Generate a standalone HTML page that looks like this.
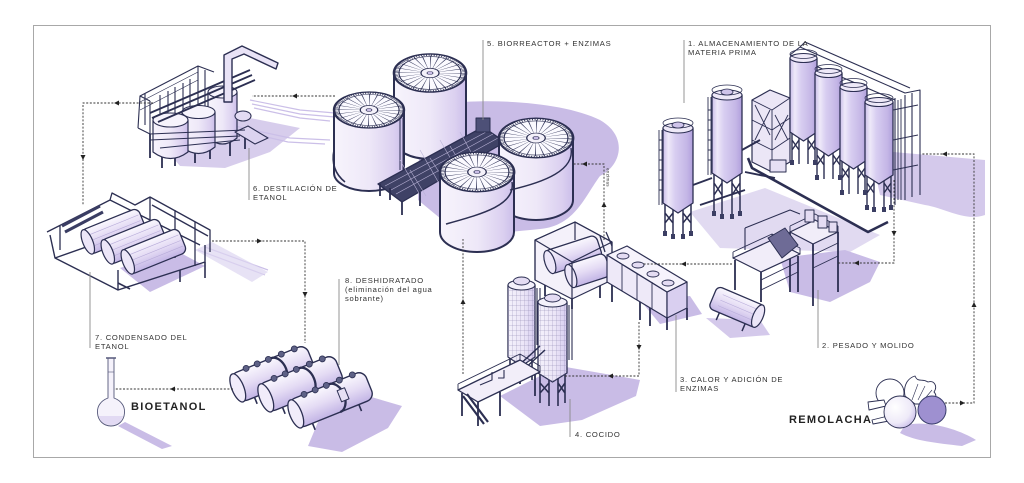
<!DOCTYPE html>
<html><head><meta charset="utf-8"><style>
html,body{margin:0;padding:0;background:#fff;}
svg{display:block}
text{font-family:"Liberation Sans",sans-serif;fill:#333;font-size:7.6px;letter-spacing:0.75px}
.b{font-weight:bold;font-size:11px;letter-spacing:1.3px;fill:#222}
.d{fill:none;stroke:#333;stroke-width:0.9;stroke-dasharray:2 1.6}
.l{stroke:#8a8a8a;stroke-width:0.9}
.a{fill:#222}
.n{stroke:#2c2f52;fill:none}
</style></head><body>
<svg width="1024" height="483" viewBox="0 0 1024 483" xmlns="http://www.w3.org/2000/svg">
<defs>
<linearGradient id="tk" x1="0" x2="1" y1="0" y2="0"><stop offset="0" stop-color="#f7f4fc"/><stop offset=".5" stop-color="#eee8f8"/><stop offset=".85" stop-color="#dbd0f0"/><stop offset="1" stop-color="#cbbeea"/></linearGradient>
<linearGradient id="sl" x1="0" x2="1" y1="0" y2="0"><stop offset="0" stop-color="#cabee9"/><stop offset=".18" stop-color="#eee9f9"/><stop offset=".4" stop-color="#d8cef1"/><stop offset=".8" stop-color="#c4b6e6"/><stop offset="1" stop-color="#b09fdc"/></linearGradient>
<linearGradient id="sl2" x1="0" x2="1" y1="0" y2="0"><stop offset="0" stop-color="#f4f1fb"/><stop offset=".6" stop-color="#ebe5f7"/><stop offset="1" stop-color="#d6ccf0"/></linearGradient>
<linearGradient id="cy" x1="0" x2="0" y1="0" y2="1"><stop offset="0" stop-color="#faf8fe"/><stop offset=".5" stop-color="#e4dbf4"/><stop offset="1" stop-color="#c2b4e5"/></linearGradient>
<radialGradient id="bt" cx=".35" cy=".35" r=".7"><stop offset="0" stop-color="#ffffff"/><stop offset=".7" stop-color="#eeeaf8"/><stop offset="1" stop-color="#cfc5ec"/></radialGradient>
<pattern id="grid" width="4" height="5" patternUnits="userSpaceOnUse"><path d="M0,0 H4 M0,0 V5" stroke="#8d86b0" stroke-width=".5" fill="none"/></pattern>
<g id="top">
 <circle r="36" fill="#fbfaff" stroke="#2c2f52" stroke-width="2.6"/>
 <circle r="17" fill="none" stroke="#3a3d60" stroke-width="32" stroke-dasharray="0.55 3.9"/>
 <circle r="31" fill="none" stroke="#2c2f52" stroke-width="1.2"/>
 <circle r="34" fill="none" stroke="#2c2f52" stroke-width="3.5" stroke-dasharray="0.9 1.7"/>
 <circle r="9" fill="#f4f1fa" stroke="#2c2f52" stroke-width="1.3"/>
 <circle r="3" fill="#c9bde6" stroke="#2c2f52" stroke-width=".8"/>
</g>
</defs>

<rect x="33.5" y="25.5" width="957" height="432" fill="#fff" stroke="#a8a8a8" stroke-width="1"/>

<!-- ============ SHADOWS ============ -->
<g fill="#c9bce6">
 <path d="M420,108 C470,96 560,100 600,120 C628,136 622,165 600,176 C585,196 575,226 540,229 C500,233 470,236 452,228 L418,200 Z"/>
 <path d="M870,150 L985,160 L985,215 C965,222 945,208 925,205 L880,195 Z" opacity=".8"/>
 <path d="M690,212 L765,188 L880,235 L850,252 L720,248 Z" opacity=".55"/>
 <path d="M160,142 L250,118 L300,128 L270,152 L225,168 L180,166 Z" opacity=".75"/>
 <path d="M120,268 L175,250 L205,266 L150,292 Z"/>
 <path d="M318,422 L368,396 L402,406 L388,428 L342,452 L308,446 Z"/>
 <path d="M500,396 L560,366 L640,380 L636,396 L582,420 L540,426 Z"/>
 <path d="M640,300 L690,296 L702,314 L660,324 Z"/>
 <path d="M780,258 L845,250 L880,262 L870,282 L830,302 L790,292 Z"/>
 <path d="M706,318 L760,320 L770,335 L730,338 Z" opacity=".8"/>
 <path d="M905,425 C930,420 960,430 976,440 L962,446 C936,443 915,441 900,433 Z"/>
 <path d="M118,426 L125,422 L172,446 L162,449 Z"/>
</g>
<g stroke="#cbbfe8" stroke-width="1.2" fill="none">
 <path d="M250,100 L300,110 L335,113 M252,104 L300,114 L335,117 M254,108 L300,118 L330,121 M230,125 L290,138 L330,140 M232,129 L288,142 L325,144"/>
 <path d="M198,250 L265,275 M205,247 L268,270"/>
</g>
<path d="M195,250 L212,242 L268,272 L252,282 Z" fill="#ddd5f1" opacity=".7"/>

<!-- ============ DISTILLATION (6) ============ -->
<g stroke="#2c2f52" stroke-linejoin="round">
 <path d="M150,134 V158 M162,150 V168 M175,146 V166 M195,145 V163 M210,140 V159 M230,136 V156 M245,130 V149" stroke-width="1.8" fill="none"/>
 <path d="M138,128 L140,96 L198,66 L214,72 M140,96 L150,101 M138,128 L150,134 M150,101 L150,134 M160,95 L160,130 M175,87 L175,124 M190,79 L190,116 M205,70 L205,108 M145,93 V125 M168,91 V127 M183,83 V120 M198,66 V112" stroke-width="1.1" fill="none"/>
 <path d="M140,102 L198,72 M140,110 L198,80" stroke-width=".7" fill="none"/>
 <path d="M208,92 V138 Q222.5,150 237,138 V92 Z" fill="url(#tk)" stroke-width="1.2"/>
 <ellipse cx="222.5" cy="92" rx="14.5" ry="6" fill="#f6f3fc" stroke-width="1.1"/>
 <path d="M182,112 V147 Q198.5,160 215,147 V112 Z" fill="url(#tk)" stroke-width="1.2"/>
 <ellipse cx="198.5" cy="112" rx="16.5" ry="6.5" fill="#f6f3fc" stroke-width="1.1"/>
 <path d="M153,120 V152 Q170.5,165 188,152 V120 Z" fill="url(#tk)" stroke-width="1.2"/>
 <ellipse cx="170.5" cy="120" rx="17.5" ry="7" fill="#f6f3fc" stroke-width="1.1"/>
 <path d="M150,113 L250,70 M152,118 L252,75 M158,122 L255,80" stroke-width="1.8" fill="none"/>
 <path d="M224,102 V55 L242,46 L278,63 L276,69 L244,54 L232,59 V102 Z" fill="#e9e3f6" stroke-width="1.4"/>
 <path d="M235,132 L248,126 L268,138 L255,144 Z" fill="#dcd3f0" stroke-width="1.1"/>
 <ellipse cx="243" cy="116" rx="8" ry="5" fill="#e3dbf3" stroke-width="1.1"/>
 <path d="M150,134 L245,130 M150,140 L240,136 M160,148 L240,140" stroke-width=".9" fill="none"/>
</g>

<!-- ============ CONDENSER (7) ============ -->
<g stroke="#2c2f52" fill="none" stroke-linejoin="round">
 <path d="M50,235 L55,258 L118,290 L205,262 L205,245 M55,258 L140,228 M118,290 L118,270" stroke-width="1.4"/>
 <path d="M47,232 L110,200 L140,215 M60,226 L60,250 M110,200 L112,193 L135,205 L150,197 L210,230 L210,252 M150,197 L150,240 M175,210 L175,258 M195,222 L195,266 M140,215 L200,245 M152,205 L208,236" stroke-width="1.3"/>
 <path d="M62,226 L100,206 M65,232 L103,212" stroke-width="3" stroke="#3a3d63"/>
 <g transform="translate(85,243) rotate(-22)"><rect x="0" y="-13" width="62" height="26" rx="6" fill="url(#cy)" stroke-width="1.3"/><path d="M8,-6 H60 M8,0 H60 M8,6 H60" stroke="#b7abd9" stroke-width=".6"/><ellipse cx="3" cy="0" rx="5" ry="13" fill="#ece6f8" stroke-width="1.2"/></g>
 <g transform="translate(105,253) rotate(-22)"><rect x="0" y="-13" width="62" height="26" rx="6" fill="url(#cy)" stroke-width="1.3"/><path d="M8,-6 H60 M8,0 H60 M8,6 H60" stroke="#b7abd9" stroke-width=".6"/><ellipse cx="3" cy="0" rx="5" ry="13" fill="#ece6f8" stroke-width="1.2"/></g>
 <g transform="translate(125,263) rotate(-22)"><rect x="0" y="-13" width="62" height="26" rx="6" fill="url(#cy)" stroke-width="1.3"/><path d="M8,-6 H60 M8,0 H60 M8,6 H60" stroke="#b7abd9" stroke-width=".6"/><ellipse cx="3" cy="0" rx="5" ry="13" fill="#ece6f8" stroke-width="1.2"/></g>
 <path d="M118,283 L130,289 M205,262 V278 M180,270 V282" stroke-width="1.6"/>
</g>

<!-- ============ BIOREACTOR (5) ============ -->
<g stroke="#2c2f52" stroke-linejoin="round">
 <path d="M394,73 V140 A36,19 0 0 0 466,140 V73 Z" fill="url(#tk)" stroke-width="2"/>
 <use href="#top" transform="translate(430,73) scale(1,0.53)"/>
 <path d="M334,110 V173 A35,18 0 0 0 404,173 V110 Z" fill="url(#tk)" stroke-width="2"/>
 <use href="#top" transform="translate(369,110) scale(0.97,0.5)"/>
 <path d="M334,150 Q330,170 345,182" fill="none" stroke-width="1.6"/>
 <path d="M400,118 V170 M403,118 V170" fill="none" stroke-width="1"/>
 <polygon points="378,184 483,127 505,142 402,202" fill="#3f4266" stroke-width="1.3"/>
 <path d="M385,186 L488,131 M391,190 L493,134 M396,194 L498,138 M400,160 L420,195 M420,150 L440,185 M440,140 L460,175 M460,132 L478,165 M410,170 L426,196 M430,158 L448,186 M450,146 L466,172" stroke="#b9b2d6" stroke-width=".6" fill="none"/>
 <path d="M380,184 V196 M402,202 V215 M420,192 V206 M445,178 V192 M470,165 V178 M390,188 V200" stroke-width="1.8" fill="none"/>
 <path d="M476,118 h14 v14 h-14 Z" fill="#4d5077" stroke-width="1"/>
 <path d="M499,138 V200 A37,20 0 0 0 573,200 V138 Z" fill="url(#tk)" stroke-width="2"/>
 <use href="#top" transform="translate(536,138) scale(1.03,0.55)"/>
 <path d="M440,172 V232 A37,20 0 0 0 514,232 V172 Z" fill="url(#tk)" stroke-width="2"/>
 <use href="#top" transform="translate(477,172) scale(1.03,0.55)"/>
 <path d="M512,182 C516,205 482,214 446,224" fill="none" stroke-width="1.5"/>
 <path d="M571,148 C575,170 545,182 510,190" fill="none" stroke-width="1.4"/>
</g>

<!-- ============ SILOS (1) ============ -->
<g stroke="#2c2f52" stroke-linejoin="round">
 <path d="M748,158 L752,168 L868,232 L888,222" fill="none" stroke="#2c2f52" stroke-width="2.6"/>
 <path d="M790,55 L800,47 L905,93 L920,90 L920,195 M895,98 V205 M905,95 V200 M912,93 V197 M790,55 L895,100 M800,47 L805,42 L910,88" fill="none" stroke-width="1.1"/>
 <path d="M752,100 L770,90 L790,98 V162 L772,172 L752,162 Z" fill="#ebe6f6" stroke-width="1.2"/>
 <path d="M752,100 L772,110 V172 M772,110 L790,98 M752,120 L772,130 L790,118 M752,140 L772,150 L790,138 M755,105 L770,135 M770,110 L755,140 M775,115 L788,140 M788,115 L775,140" fill="none" stroke-width=".9"/>
 <path d="M742,150 L760,140 M693,185 L712,178 M745,172 L775,178 M700,205 L745,190" fill="none" stroke-width="1.9"/>
 <rect x="770" y="160" width="16" height="12" fill="#e6e0f4" stroke-width="1"/>
 <!-- S3 -->
 <path d="M792,132 V162 M799,136 V164 M808,136 V164 M815,132 V162 M792,140 L799,150 M799,140 L792,150 M808,140 L815,150 M815,140 L808,150" fill="none" stroke-width="1.4"/>
 <path d="M790,58 V132 L803.5,141 L817,132 V58 Z" fill="url(#sl)" stroke-width="1.3"/>
 <ellipse cx="803.5" cy="58" rx="13.5" ry="4.5" fill="#eee9f8" stroke-width="1.1"/>
 <ellipse cx="803.5" cy="54" rx="13.5" ry="4.5" fill="none" stroke-width=".8"/>
 <!-- S4 -->
 <path d="M817,147 V177 M824,151 V179 M833,151 V179 M840,147 V177 M817,155 L824,165 M824,155 L817,165 M833,155 L840,165 M840,155 L833,165" fill="none" stroke-width="1.4"/>
 <path d="M815,73 V147 L828.5,156 L842,147 V73 Z" fill="url(#sl)" stroke-width="1.3"/>
 <ellipse cx="828.5" cy="73" rx="13.5" ry="4.5" fill="#eee9f8" stroke-width="1.1"/>
 <ellipse cx="828.5" cy="69" rx="13.5" ry="4.5" fill="none" stroke-width=".8"/>
 <!-- S5 -->
 <path d="M842,160 V192 M849,164 V194 M858,164 V194 M865,160 V192 M842,168 L849,178 M849,168 L842,178 M858,168 L865,178 M865,168 L858,178" fill="none" stroke-width="1.4"/>
 <path d="M840,87 V160 L853.5,169 L867,160 V87 Z" fill="url(#sl)" stroke-width="1.3"/>
 <ellipse cx="853.5" cy="87" rx="13.5" ry="4.5" fill="#eee9f8" stroke-width="1.1"/>
 <ellipse cx="853.5" cy="83" rx="13.5" ry="4.5" fill="none" stroke-width=".8"/>
 <!-- S6 -->
 <path d="M867,175 V207 M874,179 V209 M884,179 V209 M891,175 V207 M867,183 L874,193 M874,183 L867,193 M884,183 L891,193 M891,183 L884,193" fill="none" stroke-width="1.4"/>
 <path d="M865,102 V175 L879,184 L893,175 V102 Z" fill="url(#sl)" stroke-width="1.3"/>
 <ellipse cx="879" cy="102" rx="14" ry="4.5" fill="#eee9f8" stroke-width="1.1"/>
 <ellipse cx="879" cy="98" rx="14" ry="4.5" fill="none" stroke-width=".8"/>
 <path d="M893,110 L918,105 M893,140 L918,135 M893,170 L918,165 M898,100 V200 M901,99 V200" fill="none" stroke-width=".9"/>
 <!-- S1 -->
 <path d="M665,203 V233 M673,208 V236 M683,208 V236 M691,203 V233 M665,213 L673,223 M673,213 L665,223 M683,213 L691,223 M691,213 L683,223" fill="none" stroke-width="1.5"/>
 <path d="M659,130 V205 M662,130 V205 M659,140 H662 M659,150 H662 M659,160 H662 M659,170 H662 M659,180 H662 M659,190 H662" fill="none" stroke-width=".9"/>
 <path d="M663,128 V203 L678,213 L693,203 V128 Z" fill="url(#sl)" stroke-width="1.3"/>
 <ellipse cx="678" cy="128" rx="15" ry="5" fill="#eee9f8" stroke-width="1.1"/>
 <ellipse cx="678" cy="123" rx="15" ry="5" fill="none" stroke-width=".8"/>
 <ellipse cx="678" cy="125" rx="6" ry="3" fill="#cfc4ea" stroke-width=".8"/>
 <!-- S2 -->
 <path d="M714,173 V213 M722,178 V216 M732,178 V216 M740,173 V213 M714,183 L722,195 M722,183 L714,195 M732,183 L740,195 M740,183 L732,195" fill="none" stroke-width="1.5"/>
 <path d="M708,97 V175 M711,97 V175 M708,110 H711 M708,120 H711 M708,130 H711 M708,140 H711 M708,150 H711 M708,160 H711" fill="none" stroke-width=".9"/>
 <path d="M712,95 V173 L727,183 L742,173 V95 Z" fill="url(#sl)" stroke-width="1.3"/>
 <ellipse cx="727" cy="95" rx="15" ry="5" fill="#eee9f8" stroke-width="1.1"/>
 <ellipse cx="727" cy="90" rx="15" ry="5" fill="none" stroke-width=".8"/>
 <ellipse cx="727" cy="92" rx="6" ry="3" fill="#cfc4ea" stroke-width=".8"/>
</g>
<g fill="#3b3e63">
 <rect x="663" y="231" width="4" height="5"/><rect x="671" y="234" width="4" height="5"/><rect x="681" y="234" width="4" height="5"/><rect x="689" y="231" width="4" height="5"/>
 <rect x="712" y="211" width="4" height="5"/><rect x="720" y="214" width="4" height="5"/><rect x="730" y="214" width="4" height="5"/><rect x="738" y="211" width="4" height="5"/>
 <rect x="865" y="205" width="4" height="5"/><rect x="872" y="207" width="4" height="5"/><rect x="882" y="207" width="4" height="5"/><rect x="889" y="205" width="4" height="5"/>
 <rect x="840" y="190" width="4" height="5"/><rect x="863" y="190" width="4" height="5"/>
 <rect x="815" y="175" width="4" height="5"/><rect x="838" y="175" width="4" height="5"/>
 <rect x="790" y="160" width="4" height="5"/><rect x="813" y="160" width="4" height="5"/>
</g>

<!-- ============ 2 PESADO Y MOLIDO ============ -->
<g stroke="#2c2f52" stroke-linejoin="round">
 <path d="M790,232 V292 M813,244 V306 M838,232 V292 M815,220 V235 M735,260 V290 M761,272 V302 M798,256 V292" fill="none" stroke-width="1.8"/>
 <path d="M733,258 L772,240 L800,254 L761,272 Z" fill="#f1edf9" stroke-width="1.2"/>
 <path d="M733,252 L772,234 L800,248 M733,252 V258 M772,234 V240 M800,248 V254" fill="none" stroke-width=".9"/>
 <path d="M768,238 L785,228 L798,245 L782,258 Z" fill="#6e6b96" stroke-width="1"/>
 <path d="M790,232 L815,220 L838,232 L813,244 Z" fill="#f1edf9" stroke-width="1.2"/>
 <path d="M790,226 L815,214 L838,226 M790,226 V232 M838,226 V232" fill="none" stroke-width=".9"/>
 <path d="M805,210 h9 v12 h-9 Z M818,216 h9 v12 h-9 Z M829,222 h8 v10 h-8 Z" fill="#e4dcf3" stroke-width="1"/>
 <path d="M745,228 L790,210 L800,214 M745,228 V250" fill="none" stroke-width="1.1"/>
 <path d="M761,280 L798,262 M761,290 L798,272 M813,255 L838,243 M813,268 L838,256" fill="none" stroke-width=".9"/>
 <g transform="translate(713,297) rotate(23)"><rect x="0" y="-12" width="52" height="24" rx="5" fill="url(#cy)" stroke-width="1.3"/><path d="M8,-6 H48 M8,0 H48 M8,6 H48" stroke="#b7abd9" stroke-width=".6"/><ellipse cx="49" cy="0" rx="5" ry="12" fill="#ece6f8" stroke-width="1.2"/><path d="M12,12 V20 M40,12 V20" stroke-width="1.5"/></g>
</g>

<!-- ============ 3 CALOR ============ -->
<g stroke="#2c2f52" stroke-linejoin="round">
 <path d="M545,283 V296 M572,298 V309 M600,285 V298" fill="none" stroke-width="1.8"/>
 <path d="M535,240 L575,222 L612,242 L612,280 L572,299 L535,280 Z" fill="#f4f1fa" stroke-width="1.2"/>
 <g transform="translate(547,263) rotate(-18)"><rect x="0" y="-12" width="55" height="24" rx="6" fill="url(#cy)" stroke-width="1.3"/><ellipse cx="3" cy="0" rx="5" ry="12" fill="#ece6f8" stroke-width="1.2"/></g>
 <g transform="translate(568,277) rotate(-18)"><rect x="0" y="-12" width="42" height="24" rx="6" fill="url(#cy)" stroke-width="1.3"/><ellipse cx="3" cy="0" rx="5" ry="12" fill="#ece6f8" stroke-width="1.2"/></g>
 <path d="M535,240 L575,222 L612,242 L572,262 Z M535,240 V280 M572,262 V299 M612,242 V280 M575,222 V240" fill="none" stroke-width="1.2"/>
 <path d="M612,282 V302 M640,300 V320 M667,318 V330 M687,308 V320 M650,306 V326" fill="none" stroke-width="1.8"/>
 <path d="M607,255 L667,292 L667,318 L607,282 Z" fill="#eee9f8" stroke-width="1.2"/>
 <path d="M667,292 L687,282 L687,308 L667,318 Z" fill="#d9cff0" stroke-width="1.2"/>
 <path d="M607,255 L627,246 L687,282 L667,292 Z" fill="#f6f3fc" stroke-width="1.2"/>
 <path d="M622,264 V291 M637,273 V300 M652,282 V309" fill="none" stroke-width=".9"/>
 <ellipse cx="623" cy="256" rx="6" ry="3" fill="#e4dcf3" stroke-width=".9"/>
 <ellipse cx="638" cy="265" rx="6" ry="3" fill="#e4dcf3" stroke-width=".9"/>
 <ellipse cx="653" cy="274" rx="6" ry="3" fill="#e4dcf3" stroke-width=".9"/>
 <ellipse cx="668" cy="283" rx="6" ry="3" fill="#e4dcf3" stroke-width=".9"/>
 <path d="M605,252 L600,236 M612,246 L606,232" fill="none" stroke-width="1.3"/>
</g>

<!-- ============ 4 COCIDO ============ -->
<g stroke="#2c2f52" stroke-linejoin="round">
 <path d="M510,357 V380 M532,357 V380 M540,373 V403 M549,378 V406 M558,378 V406 M565,373 V403 M540,383 L549,393 M549,383 L540,393 M558,383 L565,393 M565,383 L558,393" fill="none" stroke-width="1.6"/>
 <path d="M508,285 V357 L521.5,366 L535,357 V285 Z" fill="url(#sl2)" stroke-width="1.3"/>
 <path d="M508,285 V357 L521.5,366 L535,357 V285 Z" fill="url(#grid)" stroke="none"/>
 <ellipse cx="521.5" cy="285" rx="13.5" ry="5" fill="#f4f1fb" stroke-width="1.1"/>
 <ellipse cx="521.5" cy="281" rx="8" ry="4" fill="#e4dcf3" stroke-width=".9"/>
 <path d="M537,288 V345 M540,288 V345" fill="none" stroke-width="1.1"/>
 <path d="M538,302 V373 L552.5,382 L567,373 V302 Z" fill="url(#sl2)" stroke-width="1.3"/>
 <path d="M538,302 V373 L552.5,382 L567,373 V302 Z" fill="url(#grid)" stroke="none"/>
 <ellipse cx="552.5" cy="302" rx="14.5" ry="5" fill="#f4f1fb" stroke-width="1.1"/>
 <ellipse cx="552.5" cy="298" rx="8" ry="4" fill="#e4dcf3" stroke-width=".9"/>
 <path d="M569,305 V360 M572,305 V360" fill="none" stroke-width="1.1"/>
 <path d="M505,378 L540,346 M510,382 L545,350" fill="none" stroke-width="1.5"/>
 <path d="M462,393 V416 M478,402 V426 M500,392 V416 M520,362 V384 M535,372 V396" fill="none" stroke-width="1.8"/>
 <path d="M458,390 L520,360 L540,372 L478,402 Z" fill="#f2eef9" stroke-width="1.3"/>
 <path d="M458,384 L520,354 L540,366 M458,384 V390 M520,354 V360 M540,366 V372 M470,384 L520,360" fill="none" stroke-width=".9"/>
 <path d="M463,396 L484,424 M467,394 L488,422" fill="none" stroke-width="2.2"/>
 <path d="M480,385 L492,380 V372 M498,378 h6 v-8" fill="none" stroke-width="1.1"/>
</g>

<!-- ============ 8 DEHYDRATOR ============ -->
<g stroke="#2c2f52" stroke-linejoin="round">
 <g transform="translate(235,389) rotate(-22)"><rect x="0" y="-15" width="82" height="30" rx="8" fill="url(#cy)" stroke-width="1.4"/><path d="M45,-15 A10,15 0 0 1 45,15" fill="none" stroke-width="2.3"/><ellipse cx="3" cy="0" rx="6" ry="15" fill="#f1ecfa" stroke-width="1.3"/><g fill="#5e6186" stroke-width=".8"><circle cx="18" cy="-15" r="3"/><circle cx="30" cy="-15" r="3"/><circle cx="42" cy="-15" r="3"/><circle cx="56" cy="-15" r="3"/><circle cx="70" cy="-15" r="3"/></g><path d="M15,15 V22 M65,15 V22" stroke-width="1.6"/></g>
 <g transform="translate(263,399) rotate(-22)"><rect x="0" y="-15" width="82" height="30" rx="8" fill="url(#cy)" stroke-width="1.4"/><path d="M45,-15 A10,15 0 0 1 45,15" fill="none" stroke-width="2.3"/><ellipse cx="3" cy="0" rx="6" ry="15" fill="#f1ecfa" stroke-width="1.3"/><g fill="#5e6186" stroke-width=".8"><circle cx="18" cy="-15" r="3"/><circle cx="30" cy="-15" r="3"/><circle cx="42" cy="-15" r="3"/><circle cx="56" cy="-15" r="3"/><circle cx="70" cy="-15" r="3"/></g><path d="M15,15 V22 M65,15 V22" stroke-width="1.6"/></g>
 <g transform="translate(293,415) rotate(-22)"><rect x="0" y="-15" width="82" height="30" rx="8" fill="url(#cy)" stroke-width="1.4"/><path d="M45,-15 A10,15 0 0 1 45,15" fill="none" stroke-width="2.3"/><ellipse cx="3" cy="0" rx="6" ry="15" fill="#f1ecfa" stroke-width="1.3"/><g fill="#5e6186" stroke-width=".8"><circle cx="18" cy="-15" r="3"/><circle cx="30" cy="-15" r="3"/><circle cx="42" cy="-15" r="3"/><circle cx="56" cy="-15" r="3"/><circle cx="70" cy="-15" r="3"/></g><rect x="50" y="-6" width="8" height="12" fill="#e6dff4" stroke-width="1"/><path d="M15,15 V22 M65,15 V22" stroke-width="1.6"/></g>
</g>

<!-- ============ FLASK ============ -->
<g stroke="#55587a" stroke-width=".9">
 <path d="M108,358 H114 V398 C122,401 125,407 124.5,413 C124,421 118,426 111,426 C104,426 98,421 97.5,413 C97,407 100,401 108,398 Z" fill="#f5f2fb"/>
 <path d="M99,416 C100,422 105,425 111,425 C117,425 122,422 123,416 Z" fill="#e2daf3" stroke="none"/>
 <path d="M106,358 H116" stroke-width="1.5"/>
 <path d="M108,372 H114" stroke-width=".6"/>
</g>

<!-- ============ BEET ============ -->
<g stroke="#2c2f52" stroke-width=".9" stroke-linejoin="round">
 <circle cx="890" cy="393" r="14" fill="#fff"/>
 <path d="M905,396 C903,385 908,378 915,376 C918,383 922,378 928,382 C934,380 938,386 934,392 C938,396 935,402 930,404 L915,404 Z" fill="#fff"/>
 <path d="M912,400 L918,384 M918,400 L925,386 M922,402 L932,390" fill="none" stroke-width=".6"/>
 <path d="M868,402 L884,400 L886,406 L869,410 Z M872,420 L888,416 L889,421 L873,424 Z" fill="#fff"/>
 <circle cx="900" cy="412" r="16" fill="url(#bt)"/>
 <circle cx="932" cy="410" r="14" fill="#9e90d0" stroke="#3b3e6e" stroke-width="1"/>
</g>

<!-- ============ CONNECTORS ============ -->
<g>
 <path class="d" d="M153,103 H83 V205"/>
 <path class="d" d="M335,96 H252"/>
 <path class="d" d="M212,241 H305 V343"/>
 <path class="d" d="M233,389 H114"/>
 <path class="d" d="M463,374 V239"/>
 <path class="d" d="M639,322 V376 H565"/>
 <path class="d" d="M732,264 H642"/>
 <path class="d" d="M604,240 V164 H572"/>
 <path class="d" d="M894,180 V263 H837"/>
 <path class="d" d="M945,403 H974 V154 H922"/>
</g>
<g class="a">
 <path d="M114,103 L119,100.5 L119,105.5 Z"/>
 <path d="M83,160 L80.5,155 L85.5,155 Z"/>
 <path d="M292,96 L297,93.5 L297,98.5 Z"/>
 <path d="M262,241 L257,238.5 L257,243.5 Z"/>
 <path d="M305,297 L302.5,292 L307.5,292 Z"/>
 <path d="M170,389 L175,386.5 L175,391.5 Z"/>
 <path d="M463,299 L460.5,304 L465.5,304 Z"/>
 <path d="M639,350 L636.5,345 L641.5,345 Z"/>
 <path d="M608,376 L613,373.5 L613,378.5 Z"/>
 <path d="M681,264 L686,261.5 L686,266.5 Z"/>
 <path d="M604,202 L601.5,207 L606.5,207 Z"/>
 <path d="M582,164 L587,161.5 L587,166.5 Z"/>
 <path d="M894,236 L891.5,231 L896.5,231 Z"/>
 <path d="M854,263 L859,260.5 L859,265.5 Z"/>
 <path d="M965,403 L960,400.5 L960,405.5 Z"/>
 <path d="M974,302 L971.5,307 L976.5,307 Z"/>
 <path d="M942,154 L947,151.5 L947,156.5 Z"/>
</g>
<text transform="translate(606.5,168) rotate(90)" style="font-size:4.5px;letter-spacing:.3px">enzimas</text>

<!-- ============ LEADERS ============ -->
<g class="l">
 <line x1="483" y1="40" x2="483" y2="120"/>
 <line x1="684" y1="40" x2="684" y2="103"/>
 <line x1="249" y1="148" x2="249" y2="200"/>
 <line x1="90" y1="272" x2="90" y2="348"/>
 <line x1="339" y1="279" x2="339" y2="365"/>
 <line x1="818" y1="290" x2="818" y2="348"/>
 <line x1="676" y1="315" x2="676" y2="392"/>
 <line x1="570" y1="399" x2="570" y2="437"/>
</g>

<!-- ============ LABELS ============ -->
<text x="487" y="46">5. BIORREACTOR + ENZIMAS</text>
<text x="688" y="46">1. ALMACENAMIENTO DE LA</text>
<text x="688" y="55">MATERIA PRIMA</text>
<text x="253" y="191">6. DESTILACIÓN DE</text>
<text x="253" y="200">ETANOL</text>
<text x="95" y="340">7. CONDENSADO  DEL</text>
<text x="95" y="349">ETANOL</text>
<text x="345" y="283">8. DESHIDRATADO</text>
<text x="345" y="292">(eliminación del agua</text>
<text x="345" y="301">sobrante)</text>
<text x="822" y="348">2. PESADO Y MOLIDO</text>
<text x="680" y="382">3. CALOR Y ADICIÓN DE</text>
<text x="680" y="391">ENZIMAS</text>
<text x="575" y="437">4. COCIDO</text>
<text class="b" x="131" y="410">BIOETANOL</text>
<text class="b" x="789" y="423">REMOLACHA</text>
</svg>
</body></html>
